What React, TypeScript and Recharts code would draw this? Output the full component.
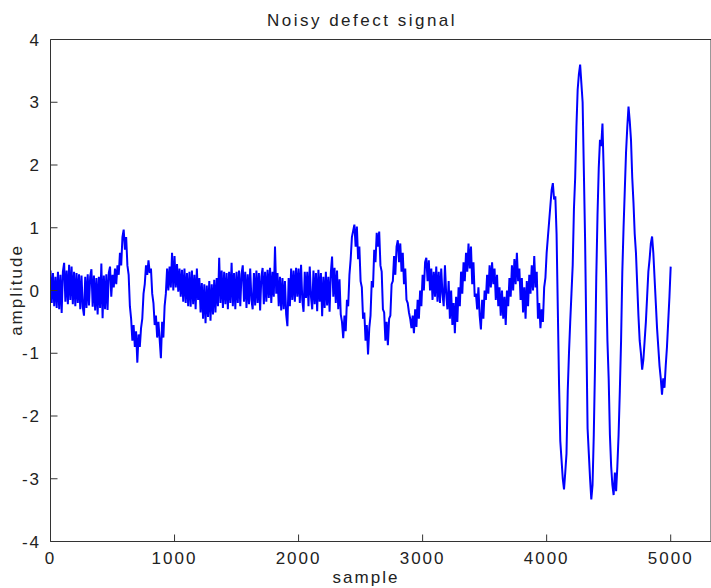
import { LineChart, Line, XAxis, YAxis } from 'recharts';

// MATLAB-style plot: one noisy trace, 5000 samples read every 10 samples
const SAMPLE_STEP = 10;

// amplitude, samples 0..490
const SEG_0000 = [
  0.32, -0.20, 0.28, -0.25, 0.22, -0.28, 0.30, -0.30, 0.25, -0.36,
  0.30, 0.44, -0.18, 0.32, -0.22, 0.41, -0.15, 0.38, -0.22, 0.30,
  -0.25, 0.28, -0.20, 0.26, -0.30, 0.24, -0.26, -0.40, 0.22, -0.28,
  0.26, -0.24, 0.22, 0.34, -0.26, 0.24, -0.32, 0.20, -0.38, 0.22,
  -0.28, 0.43, -0.44, 0.24, -0.30, 0.26, -0.31, 0.28, 0.38, -0.10,
];
// samples 500..990
const SEG_0500 = [
  0.25, 0.05, 0.35, 0.10, 0.40, 0.25, 0.60, 0.40, 0.85, 0.97,
  0.65, 0.85, 0.40, 0.25, -0.25, -0.45, -0.80, -0.55, -0.90, -0.65,
  -1.15, -0.70, -0.90, -0.60, -0.45, -0.05, 0.10, 0.40, 0.25, 0.48,
  0.28, 0.35, -0.05, -0.20, -0.55, -0.40, -0.75, -0.50, -0.78, -1.08,
  -0.50, -0.75, -0.25, -0.05, 0.35, 0.00, 0.38, 0.05, 0.60, 0.00,
];
// samples 1000..1490
const SEG_1000 = [
  0.55, 0.05, 0.42, -0.02, 0.35, -0.10, 0.33, -0.18, 0.35, -0.20,
  0.28, -0.25, 0.30, -0.26, 0.32, -0.22, 0.25, -0.30, 0.35, -0.15,
  0.20, -0.35, 0.12, -0.45, 0.10, -0.52, 0.08, -0.42, 0.15, -0.48,
  0.10, -0.38, 0.17, -0.35, 0.20, -0.25, 0.52, -0.20, 0.32, -0.28,
  0.30, -0.22, 0.28, -0.30, 0.30, -0.20, 0.44, -0.25, 0.28, -0.30,
];
// samples 1500..1990
const SEG_1500 = [
  0.30, -0.20, 0.32, -0.25, 0.26, 0.40, -0.18, 0.30, -0.28, 0.26,
  -0.22, 0.35, -0.15, -0.30, 0.28, -0.24, 0.32, -0.20, 0.28, -0.32,
  0.22, 0.36, -0.22, 0.30, -0.18, 0.33, -0.12, 0.36, -0.20, 0.30,
  -0.10, 0.70, -0.05, 0.28, -0.25, 0.22, -0.32, 0.20, -0.30, 0.15,
  -0.38, -0.57, 0.20, -0.25, 0.35, -0.15, 0.32, -0.18, 0.36, -0.10,
];
// samples 2000..2490
const SEG_2000 = [
  0.35, -0.20, 0.41, -0.15, -0.34, 0.30, -0.12, 0.30, -0.25, 0.38,
  -0.10, -0.30, 0.32, -0.22, 0.28, -0.33, 0.33, -0.18, 0.28, -0.41,
  0.22, -0.28, 0.30, -0.24, 0.22, -0.34, 0.28, 0.54, -0.10, 0.36,
  -0.20, 0.32, -0.30, 0.18, -0.38, -0.50, -0.76, -0.40, -0.65, -0.15,
  -0.25, 0.25, 0.50, 0.85, 0.95, 1.05, 0.70, 1.02, 0.50, 0.70,
];
// samples 2500..2990
const SEG_2500 = [
  0.15, 0.05, -0.45, -0.35, -0.80, -0.55, -1.02, -0.60, -0.40, 0.15,
  0.05, 0.65, 0.45, 0.92, 0.70, 0.94, 0.40, 0.30, -0.30, -0.35,
  -0.80, -0.50, -0.87, -0.45, -0.40, 0.10, 0.15, 0.55, 0.25, 0.70,
  0.80, 0.45, 0.75, 0.30, 0.60, 0.10, 0.35, -0.15, -0.20, -0.35,
  -0.45, -0.60, -0.40, -0.68, -0.30, -0.58, -0.15, -0.45, 0.00, -0.25,
];
// samples 3000..3490
const SEG_3000 = [
  0.25, 0.00, 0.45, 0.52, 0.15, 0.48, 0.00, 0.35, -0.15, 0.30,
  -0.10, 0.38, -0.18, 0.30, -0.20, 0.35, -0.05, -0.25, 0.40, -0.05,
  -0.30, 0.15, -0.45, 0.00, -0.55, -0.20, -0.68, -0.10, -0.50, 0.05,
  -0.25, 0.30, -0.05, 0.45, 0.15, 0.60, 0.30, 0.75, 0.35, 0.70,
  0.10, 0.45, -0.10, -0.05, -0.30, 0.05, -0.40, -0.62, -0.15, -0.45,
];
// samples 3500..3990
const SEG_3500 = [
  0.00, -0.15, 0.25, -0.05, 0.40, 0.05, 0.45, 0.10, 0.35, -0.15,
  0.25, -0.25, 0.05, -0.40, 0.00, -0.45, -0.10, -0.55, 0.00, -0.25,
  0.20, -0.10, 0.40, 0.00, 0.50, 0.10, 0.60, 0.15, 0.35, -0.15,
  0.20, -0.35, 0.05, -0.45, 0.15, -0.25, 0.25, -0.05, 0.40, 0.00,
  0.55, 0.05, 0.30, -0.45, -0.20, -0.60, -0.30, -0.50, 0.05, 0.20,
];
// samples 4000..4490 (the defect)
const SEG_4000 = [
  0.60, 0.85, 1.10, 1.35, 1.60, 1.71, 1.45, 1.50, 0.90, -0.30,
  -1.50, -2.40, -2.70, -3.00, -3.17, -2.90, -2.60, -1.60, -1.00, -0.50,
  -0.05, 0.40, 1.30, 1.80, 2.60, 3.20, 3.45, 3.60, 3.30, 3.00,
  1.90, 0.80, -0.70, -2.20, -2.60, -3.00, -3.33, -3.10, -2.30, -1.20,
  0.20, 1.20, 1.95, 2.40, 2.30, 2.66, 1.90, 1.00, 0.20, -0.80,
];
// samples 4500..5000
const SEG_4500 = [
  -1.40, -2.30, -2.80, -3.10, -3.26, -2.90, -3.20, -2.80, -2.30, -1.60,
  -0.80, 0.30, 1.00, 1.60, 2.20, 2.60, 2.93, 2.70, 2.40, 1.80,
  1.40, 0.90, 0.60, 0.10, -0.40, -0.80, -1.00, -1.26, -1.10, -0.80,
  -0.50, -0.10, 0.30, 0.50, 0.75, 0.86, 0.60, 0.20, -0.20, -0.60,
  -0.90, -1.20, -1.40, -1.66, -1.40, -1.55, -1.20, -0.90, -0.50, -0.10,
  0.38,
];

const X_TICKS = [0, 1000, 2000, 3000, 4000, 5000];
const Y_TICKS = [-4, -3, -2, -1, 0, 1, 2, 3, 4];
const X_MAX = 5325;

const amplitude = [
  ...SEG_0000, ...SEG_0500, ...SEG_1000, ...SEG_1500, ...SEG_2000,
  ...SEG_2500, ...SEG_3000, ...SEG_3500, ...SEG_4000, ...SEG_4500,
];
const data = amplitude.map((a, i) => ({ sample: i * SAMPLE_STEP, amplitude: a }));

const FONT = "'Liberation Sans', Arial, sans-serif";
const AXIS_COLOR = '#333';
const tickStyle = { fill: '#222', fontSize: 17, fontFamily: FONT, letterSpacing: 2 };

const textBase: React.CSSProperties = {
  position: 'absolute',
  fontFamily: FONT,
  fontSize: 17,
  letterSpacing: 2,
  color: '#222',
  whiteSpace: 'nowrap',
  transform: 'translate(-50%, -50%)',
  lineHeight: 1,
};

export default function App() {
  return (
    <div
      style={{
        position: 'fixed',
        left: 0,
        top: 0,
        width: 711,
        height: 588,
        overflow: 'hidden',
        background: '#fff',
      }}
    >
      <LineChart
        width={760}
        height={588}
        data={data}
        margin={{ top: 38.5, right: 48, bottom: 0, left: 0 }}
      >
        <XAxis
          dataKey="sample"
          type="number"
          domain={[0, X_MAX]}
          ticks={X_TICKS}
          interval={0}
          height={46.5}
          tickSize={-7}
          tickMargin={17.5}
          stroke={AXIS_COLOR}
          tick={tickStyle}
          allowDataOverflow
        />
        {/* cadre haut : un axe de hauteur nulle n'est pas dessine, d'ou height=1 */}
        <XAxis
          xAxisId="top"
          dataKey="sample"
          orientation="top"
          type="number"
          domain={[0, X_MAX]}
          ticks={X_TICKS}
          interval={0}
          height={1}
          tickSize={-7}
          tick={false}
          stroke={AXIS_COLOR}
          allowDataOverflow
        />
        <YAxis
          type="number"
          domain={[-4, 4]}
          ticks={Y_TICKS}
          interval={0}
          width={50.5}
          tickSize={-7}
          tickMargin={16.5}
          stroke={AXIS_COLOR}
          tick={tickStyle}
          allowDataOverflow
        />
        <YAxis
          yAxisId="right"
          orientation="right"
          type="number"
          domain={[-4, 4]}
          ticks={Y_TICKS}
          interval={0}
          width={1}
          tickSize={-7}
          tick={false}
          stroke={AXIS_COLOR}
          allowDataOverflow
        />
        {/* trace invisible pour activer les axes du cadre (haut / droite) */}
        <Line
          xAxisId="top"
          yAxisId="right"
          dataKey="amplitude"
          stroke="none"
          dot={false}
          isAnimationActive={false}
        />
        <Line
          type="linear"
          dataKey="amplitude"
          stroke="#0000ff"
          strokeWidth={2}
          dot={false}
          isAnimationActive={false}
        />
      </LineChart>

      {/* titre et libelles d'axes */}
      <div style={{ ...textBase, left: 362, top: 20, letterSpacing: 2.5 }}>Noisy defect signal</div>
      <div style={{ ...textBase, left: 366, top: 577 }}>sample</div>
      <div style={{ ...textBase, left: 16, top: 290, transform: 'translate(-50%, -50%) rotate(-90deg)' }}>
        amplitude
      </div>
    </div>
  );
}
